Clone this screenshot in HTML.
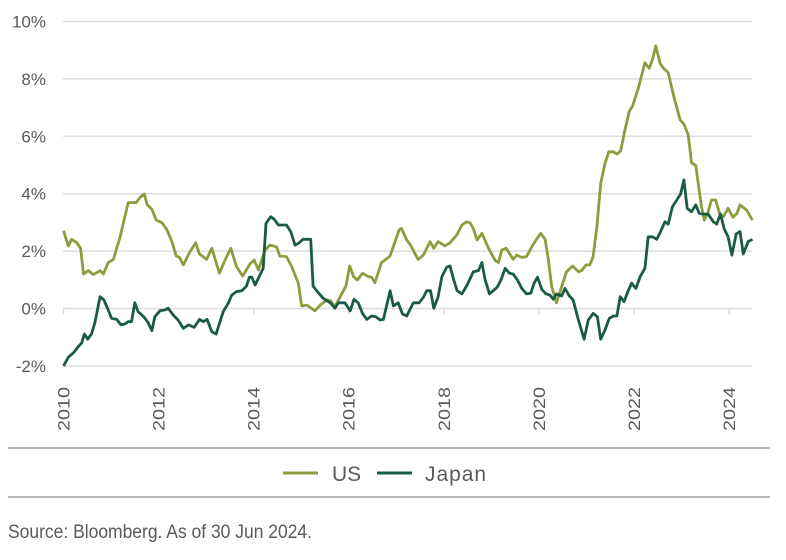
<!DOCTYPE html>
<html><head><meta charset="utf-8"><style>
html,body{margin:0;padding:0;background:#fff;}
svg{display:block;font-family:"Liberation Sans",sans-serif;}
</style></head><body>
<svg id="chart" width="786" height="560" viewBox="0 0 786 560">
<g id="grid"></g>
<g id="yt"></g>
<g id="xt"></g>
<g id="series"></g>
<line x1="8" y1="448" x2="770" y2="448" stroke="#8a8a8a" stroke-width="1.2"/>
<line x1="8" y1="497" x2="770" y2="497" stroke="#8a8a8a" stroke-width="1.2"/>
<g>
<line x1="283" y1="473" x2="318" y2="473" stroke="#8d9c3f" stroke-width="3"/>
<text x="332" y="481" font-size="21" fill="#5a5a5a">US</text></g>
<g>
<line x1="377" y1="473" x2="412" y2="473" stroke="#1a5c41" stroke-width="3"/>
<text x="425" y="481" font-size="21" fill="#5a5a5a" textLength="61">Japan</text></g>
<text x="8" y="538" font-size="19" fill="#5a5a5a" textLength="304" lengthAdjust="spacingAndGlyphs">Source: Bloomberg. As of 30 Jun 2024.</text>
</svg>
<script>
const yTicks=[-2,0,2,4,6,8,10];
const xTicks=[2010,2012,2014,2016,2018,2020,2022,2024];
const usDates=[2010.00,2010.10,2010.17,2010.28,2010.36,2010.42,2010.52,2010.63,2010.77,2010.84,2010.94,2011.05,2011.19,2011.36,2011.53,2011.61,2011.70,2011.76,2011.86,2011.95,2012.07,2012.17,2012.28,2012.37,2012.44,2012.52,2012.66,2012.78,2012.86,2013.01,2013.12,2013.28,2013.40,2013.52,2013.64,2013.77,2013.92,2014.01,2014.10,2014.24,2014.34,2014.48,2014.55,2014.69,2014.80,2014.94,2015.01,2015.12,2015.29,2015.40,2015.54,2015.62,2015.71,2015.82,2015.94,2016.02,2016.10,2016.18,2016.29,2016.41,2016.48,2016.55,2016.69,2016.87,2017.06,2017.11,2017.22,2017.30,2017.46,2017.57,2017.71,2017.79,2017.88,2018.02,2018.13,2018.27,2018.38,2018.48,2018.55,2018.62,2018.70,2018.80,2018.94,2019.08,2019.15,2019.22,2019.31,2019.46,2019.53,2019.64,2019.74,2019.85,2019.95,2020.04,2020.13,2020.20,2020.27,2020.37,2020.48,2020.58,2020.71,2020.83,2020.90,2020.99,2021.07,2021.14,2021.22,2021.30,2021.39,2021.47,2021.57,2021.64,2021.72,2021.81,2021.90,2021.97,2022.09,2022.23,2022.32,2022.39,2022.46,2022.55,2022.62,2022.72,2022.83,2022.97,2023.05,2023.14,2023.21,2023.30,2023.37,2023.42,2023.48,2023.55,2023.63,2023.72,2023.81,2023.88,2023.98,2024.08,2024.17,2024.23,2024.37,2024.49];
const usValues=[2.71,2.18,2.41,2.29,2.10,1.20,1.32,1.18,1.32,1.20,1.60,1.71,2.50,3.69,3.69,3.87,3.99,3.61,3.46,3.08,2.99,2.76,2.33,1.83,1.78,1.52,1.98,2.29,1.90,1.71,2.10,1.23,1.69,2.10,1.46,1.13,1.55,1.69,1.34,2.04,2.21,2.15,1.83,1.81,1.46,0.88,0.09,0.12,-0.08,0.12,0.30,0.27,0.06,0.41,0.78,1.48,1.11,0.99,1.23,1.11,1.09,0.90,1.60,1.83,2.74,2.79,2.39,2.21,1.71,1.86,2.33,2.10,2.33,2.18,2.29,2.56,2.91,3.02,2.99,2.79,2.39,2.62,2.10,1.67,1.60,2.04,2.10,1.71,1.86,1.78,1.81,2.15,2.41,2.62,2.41,1.69,0.76,0.20,0.76,1.28,1.48,1.28,1.32,1.52,1.52,1.81,2.85,4.36,5.06,5.46,5.46,5.38,5.49,6.22,6.86,7.06,7.67,8.56,8.37,8.68,9.15,8.54,8.37,8.22,7.44,6.57,6.43,6.05,5.08,4.98,4.13,3.55,3.08,3.32,3.78,3.78,3.26,3.20,3.49,3.18,3.32,3.61,3.43,3.08];
const jpDates=[2010.00,2010.10,2010.21,2010.31,2010.38,2010.44,2010.51,2010.59,2010.66,2010.77,2010.85,2010.94,2011.01,2011.12,2011.21,2011.29,2011.36,2011.43,2011.50,2011.57,2011.69,2011.78,2011.86,2011.92,2012.03,2012.14,2012.20,2012.31,2012.41,2012.52,2012.63,2012.75,2012.86,2012.94,2013.02,2013.12,2013.21,2013.36,2013.47,2013.54,2013.64,2013.75,2013.85,2013.91,2013.96,2014.03,2014.12,2014.20,2014.26,2014.36,2014.43,2014.52,2014.69,2014.78,2014.87,2014.94,2015.04,2015.20,2015.25,2015.36,2015.46,2015.61,2015.71,2015.78,2015.92,2016.03,2016.11,2016.20,2016.29,2016.38,2016.48,2016.57,2016.66,2016.73,2016.87,2016.94,2017.04,2017.13,2017.22,2017.36,2017.48,2017.57,2017.64,2017.72,2017.79,2017.88,2017.96,2018.06,2018.13,2018.21,2018.28,2018.38,2018.49,2018.62,2018.73,2018.80,2018.87,2018.96,2019.12,2019.20,2019.29,2019.38,2019.46,2019.55,2019.64,2019.74,2019.83,2019.90,2019.97,2020.06,2020.15,2020.23,2020.30,2020.37,2020.48,2020.55,2020.64,2020.72,2020.83,2020.95,2021.04,2021.14,2021.23,2021.30,2021.39,2021.48,2021.57,2021.64,2021.71,2021.79,2021.88,2021.95,2022.04,2022.13,2022.23,2022.30,2022.39,2022.48,2022.56,2022.65,2022.72,2022.81,2022.90,2022.98,2023.05,2023.12,2023.21,2023.30,2023.37,2023.46,2023.56,2023.67,2023.74,2023.82,2023.90,2023.98,2024.06,2024.15,2024.23,2024.30,2024.40,2024.49];
const jpValues=[-2.0,-1.70,-1.54,-1.33,-1.21,-0.89,-1.07,-0.89,-0.49,0.41,0.30,-0.05,-0.34,-0.38,-0.57,-0.54,-0.46,-0.46,0.20,-0.11,-0.29,-0.49,-0.77,-0.29,-0.08,-0.05,0.01,-0.23,-0.40,-0.69,-0.57,-0.66,-0.38,-0.46,-0.38,-0.81,-0.89,-0.11,0.20,0.47,0.59,0.62,0.78,1.09,1.09,0.82,1.13,1.40,2.97,3.20,3.11,2.91,2.91,2.68,2.21,2.27,2.41,2.41,0.78,0.55,0.36,0.20,0.01,0.20,0.20,-0.08,0.32,0.20,-0.17,-0.38,-0.26,-0.29,-0.40,-0.38,0.62,0.09,0.20,-0.19,-0.26,0.20,0.20,0.39,0.62,0.62,0.01,0.41,1.11,1.44,1.48,0.99,0.62,0.51,0.82,1.28,1.32,1.60,0.99,0.51,0.74,0.99,1.40,1.23,1.20,0.99,0.70,0.51,0.53,0.88,1.09,0.67,0.51,0.47,0.32,0.51,0.44,0.70,0.44,0.30,-0.40,-1.07,-0.40,-0.17,-0.29,-1.07,-0.75,-0.34,-0.26,-0.26,0.41,0.24,0.62,0.88,0.70,1.11,1.40,2.50,2.50,2.41,2.68,3.02,2.94,3.55,3.78,3.99,4.48,3.49,3.37,3.61,3.32,3.29,3.29,3.02,2.94,3.29,2.76,2.50,1.86,2.60,2.68,1.90,2.33,2.41];

const NS='http://www.w3.org/2000/svg';
const X0=63.5, PXYR=47.54, Y0=308.5, PXPCT=28.7;
function xs(t){return X0+(t-2010)*PXYR;}
function ys(v){return Y0-v*PXPCT;}
function mk(tag,attrs,parent){const e=document.createElementNS(NS,tag);for(const k in attrs)e.setAttribute(k,attrs[k]);parent.appendChild(e);return e;}
const grid=document.getElementById('grid'),yt=document.getElementById('yt'),xt=document.getElementById('xt'),ser=document.getElementById('series');
yTicks.forEach(v=>{
  const l=mk('line',{x1:63,x2:752,y1:ys(v),y2:ys(v),stroke:'#dcdcdc','stroke-width':1.5},grid);
  
  
  const t=mk('text',{x:46,y:ys(v)+6,'text-anchor':'end','font-size':17,fill:'#5a5a5a'},yt);
  t.textContent=v+'%';
  
  
});
xTicks.forEach(yr=>{
  const x=xs(yr);
  const tk=mk('line',{x1:x,x2:x,y1:Y0,y2:Y0+6,stroke:'#dcdcdc','stroke-width':1.5},grid);
  
  
  const t=mk('text',{x:0,y:0,'font-size':17,fill:'#5a5a5a',textLength:44,lengthAdjust:'spacingAndGlyphs',transform:'translate('+(x+6)+',431) rotate(-90)'},xt);
  t.textContent=yr;
  
  
});
function path(d,v){return d.map((t,i)=>(i?'L':'M')+xs(t).toFixed(1)+','+ys(v[i]).toFixed(1)).join('');}
const pu=mk('path',{d:path(usDates,usValues),fill:'none',stroke:'#8d9c3f','stroke-width':2.8,'stroke-linejoin':'round'},ser);


const pj=mk('path',{d:path(jpDates,jpValues),fill:'none',stroke:'#1a5c41','stroke-width':2.8,'stroke-linejoin':'round'},ser);


</script>
</body></html>
